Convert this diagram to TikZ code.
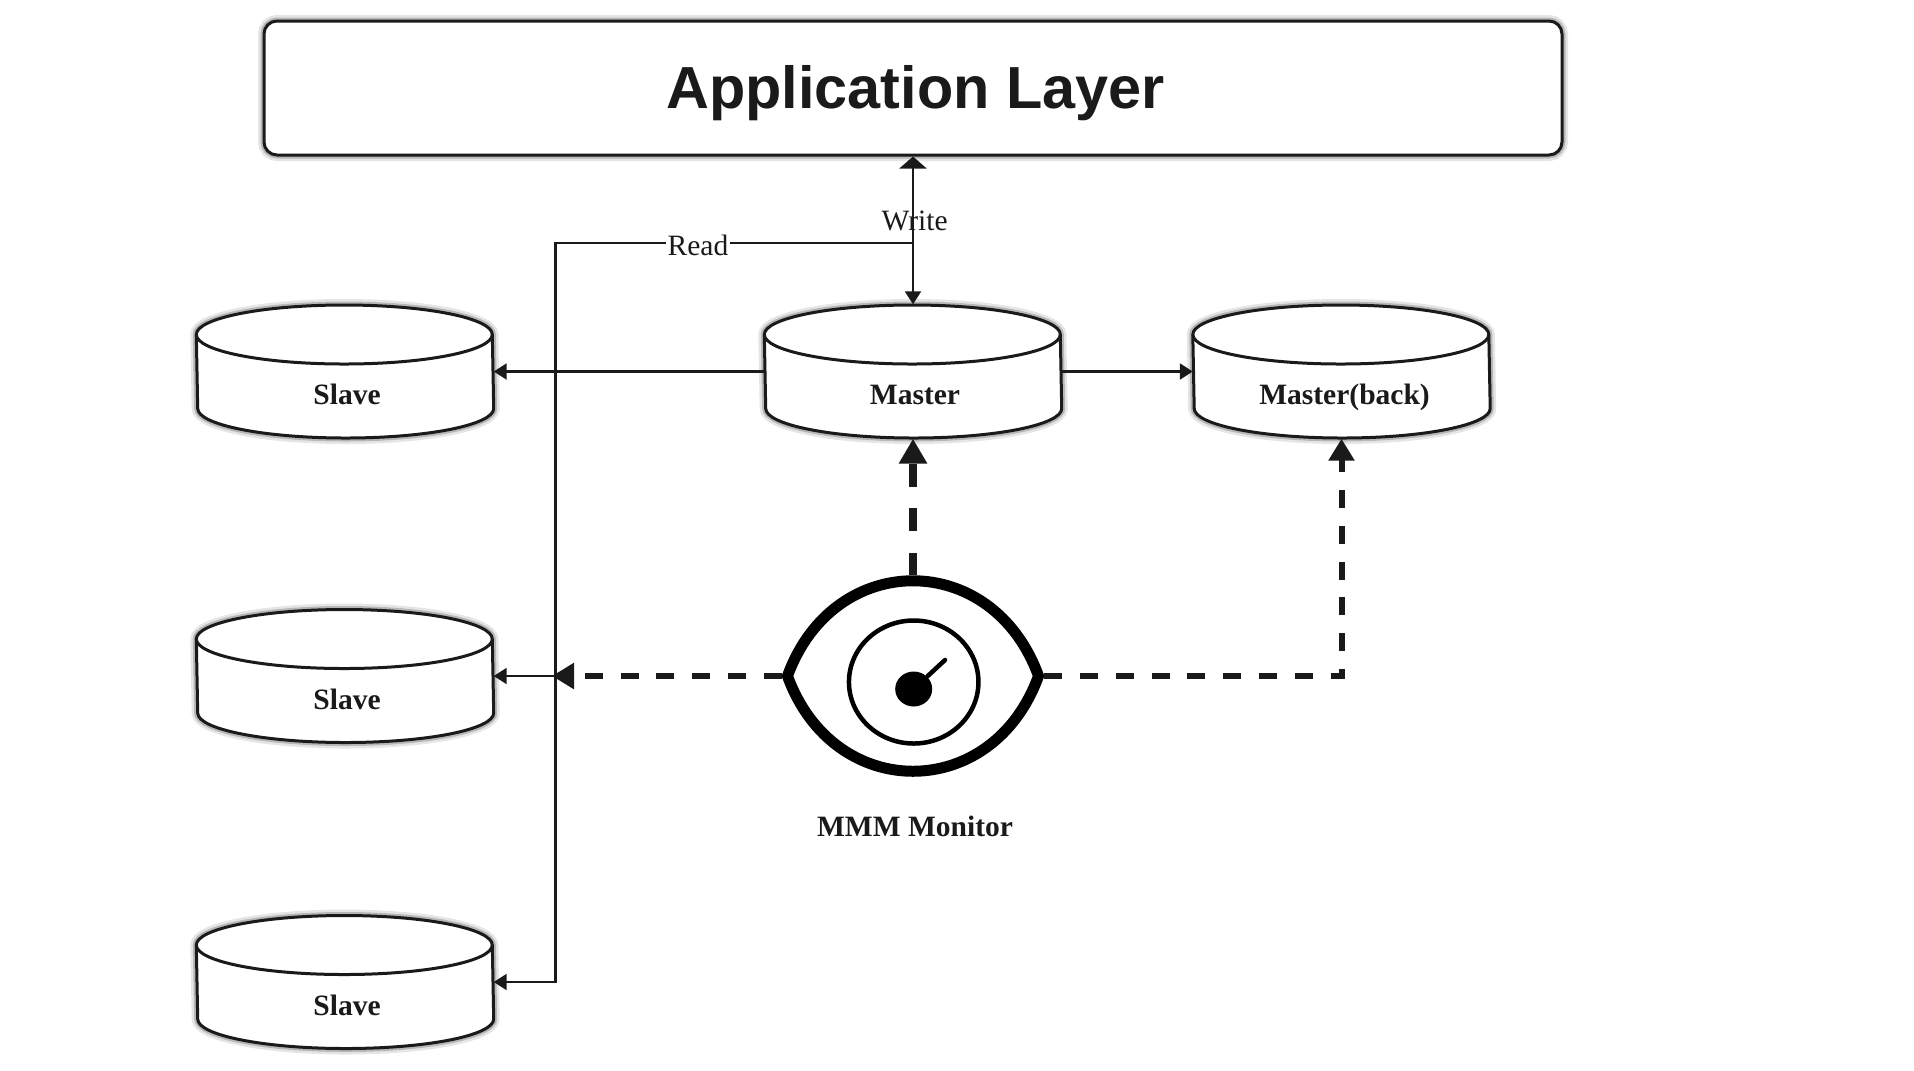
\documentclass[tikz,border=0pt]{standalone}
\usepackage{fontspec}
\setmainfont{Liberation Serif}
\newfontfamily\headfont{Liberation Sans}
\usetikzlibrary{arrows.meta,shapes.geometric}
\definecolor{inkdark}{HTML}{1A1A1A}
\tikzset{
  glowline/.style={preaction={draw=black,opacity=.1,line width=0.12cm},preaction={draw=black,opacity=.2,line width=0.07cm}},
  canbody/.style={draw=inkdark,line width=0.03cm,fill=white,glowline},
  canspot/.style={inner sep=0pt,minimum width=2.96cm,minimum height=1.33cm},
  dbtext/.style={font=\fontsize{8.4}{10}\selectfont\bfseries,text=inkdark,text height=0.2cm,text depth=0.06cm},
  flowtext/.style={font=\fontsize{8.4}{10}\selectfont,text=inkdark,inner sep=0.5pt},
  thinarrow/.style={draw=inkdark,line width=0.022cm,-{Triangle[length=0.13cm,width=0.16cm]}},
  monarrow/.style={draw=inkdark,line width=0.06cm,dash pattern=on 0.18cm off 0.178cm,-{Triangle[length=0.22cm,width=0.25cm]}}
}
\begin{document}
\begin{tikzpicture}
        \useasboundingbox (0,0) rectangle (19.14,-10.70);

        \node[draw=inkdark,line width=0.03cm,rounded corners=0.13cm,fill=white,
              minimum width=12.98cm,minimum height=1.34cm,glowline]
              (app) at (9.13,-0.88) {};
        \node[text depth=0.025cm,font=\headfont\fontsize{16.9}{20}\selectfont\bfseries,text=inkdark]
              (apptext) at (9.155,-0.88) {Application Layer};

        \begin{scope}[every node/.style={canspot}]
          \node (master) at (9.13,-3.715) {};
          \node (back)   at (13.415,-3.715) {};
          \node (slave1) at (3.45,-3.715) {};
          \node (slave2) at (3.45,-6.76) {};
          \node (slave3) at (3.45,-9.82) {};
        \end{scope}

        \foreach \can in {master,back,slave1,slave2,slave3} {
          \draw[canbody] ([yshift=0.37cm]\can.west)
            arc[start angle=180,end angle=0,x radius=1.48cm,y radius=0.295cm]
            -- ([yshift=-0.37cm]\can.east)
            arc[start angle=0,end angle=-180,x radius=1.48cm,y radius=0.295cm] -- cycle;
          \draw[draw=inkdark,line width=0.03cm] ([yshift=0.37cm]\can.west)
            arc[start angle=180,end angle=360,x radius=1.48cm,y radius=0.295cm];
        }

        \begin{scope}[every node/.style={dbtext}]
          \node (mastertext) at (9.15,-3.975)  {Master};
          \node (backtext)   at (13.445,-3.975) {Master(back)};
          \node (slavetext1) at (3.47,-3.975) {Slave};
          \node (slavetext2) at (3.47,-7.025) {Slave};
          \node (slavetext3) at (3.47,-10.085) {Slave};
          \node (montext)    at (9.15,-8.295)  {MMM Monitor};
        \end{scope}

        \node[inner sep=0pt,minimum width=2.61cm,minimum height=2cm] (eye) at (9.13,-6.76) {};
        \coordinate (eyeL) at (7.875,-6.76);
        \coordinate (eyeR) at (10.385,-6.76);
        \draw[line width=0.11cm] (eyeL)
          .. controls +(0.46,1.27) and +(-0.46,1.27) .. (eyeR)
          .. controls +(-0.46,-1.27) and +(0.46,-1.27) .. (eyeL) -- cycle;
        \node[draw=black,ellipse,line width=0.045cm,minimum width=1.295cm,minimum height=1.23cm,inner sep=0pt] (gauge) at (9.137,-6.82) {};
        \node[fill=black,ellipse,minimum width=0.37cm,minimum height=0.35cm,inner sep=0pt] (hub) at (9.137,-6.89) {};
        \coordinate (needle) at (9.45,-6.6);
        \draw[line width=0.045cm,line cap=round] (hub) -- (needle);

        \coordinate (tap)    at (9.13,-2.43);
        \coordinate (trunk)  at (5.555,-6.76);
        \coordinate (monend) at (5.52,-6.76);

        \begin{scope}[every edge/.style={thinarrow}]
          \path (master) edge (slave1.east);
          \path (master) edge (back.west);
          \path (trunk)  edge (slave2.east);
          \path (tap)    edge (master.north);
          \path (tap)    edge[-{Triangle[length=0.12cm,width=0.27cm]}] (app.south);
        \end{scope}

        \draw[thinarrow] (tap) -| (trunk) |- (slave3.east);

        \node[flowtext,fill=white] (readtext) at (6.98,-2.455) {Read};
        \node[flowtext] (writetext) at (9.147,-2.21) {Write};

        \path (eye.north) edge[monarrow,line width=0.073cm,dash pattern=on 0.227cm off 0.217cm,
              -{Triangle[length=0.25cm,width=0.27cm]}] (master.south);
        \draw[monarrow] (eye.west) -- (monend);
        \draw[monarrow] (eye.east) -| (back.south);
\end{tikzpicture}
\end{document}
